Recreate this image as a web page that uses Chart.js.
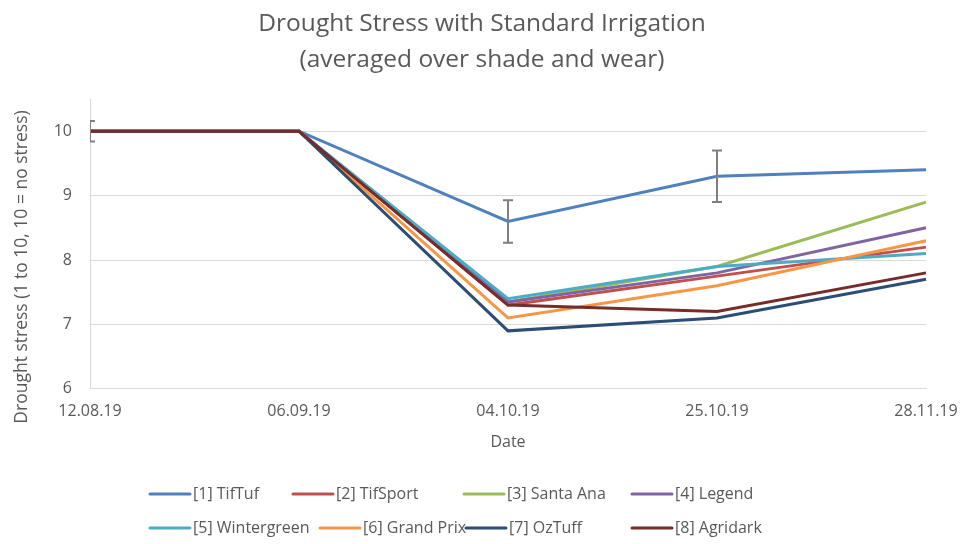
<!DOCTYPE html>
<html>
<head>
<meta charset="utf-8">
<script src="https://cdn.jsdelivr.net/npm/chart.js@4/dist/chart.umd.min.js"></script>
<style>
  html, body { margin: 0; padding: 0; background: #fff; }
  #wrap { width: 964px; height: 544px; }
</style>
</head>
<body>
<div id="wrap"><canvas id="chart"></canvas></div>
<script>
// dates of the ratings
const dates = ['12.08.19', '06.09.19', '04.10.19', '25.10.19', '28.11.19'];

// drought stress per variety (1 to 10, 10 = no stress)
const tifTuf      = [10, 10, 8.6, 9.3, 9.4];
const tifSport    = [10, 10, 7.3, 7.75, 8.2];
const santaAna    = [10, 10, 7.35, 7.9, 8.9];
const legendVar   = [10, 10, 7.35, 7.8, 8.5];
const wintergreen = [10, 10, 7.4, 7.9, 8.1];
const grandPrix   = [10, 10, 7.1, 7.6, 8.3];
const ozTuff      = [10, 10, 6.9, 7.1, 7.7];
const agridark    = [10, 10, 7.3, 7.2, 7.8];

// error bar half widths drawn on the TifTuf line
const errTifTuf = [0.16, 0, 0.33, 0.4, 0];

const yTicks = [6, 7, 8, 9, 10];
const yTitle = 'Drought stress (1 to 10, 10 = no stress)';

const seriesNames = ['[1] TifTuf', '[2] TifSport', '[3] Santa Ana', '[4] Legend',
  '[5] Wintergreen', '[6] Grand Prix', '[7] OzTuff', '[8] Agridark'];
const seriesData = [tifTuf, tifSport, santaAna, legendVar, wintergreen, grandPrix, ozTuff, agridark];
const seriesColors = ['#4F81BD', '#C0504D', '#9BBB59', '#8064A2', '#4BACC6', '#F79646', '#2C4D75', '#772C2A'];

const textColor = '#595959';
const gridColor = '#D9D9D9';
const fontFamily = '"Open Sans", sans-serif';

// error bars on dataset 0
const errorBarPlugin = {
  id: 'errorBars',
  afterDatasetsDraw(chart) {
    const ctx = chart.ctx;
    const meta = chart.getDatasetMeta(0);
    const yScale = chart.scales.y;
    const area = chart.chartArea;
    ctx.save();
    ctx.beginPath();
    ctx.rect(area.left, area.top, area.right - area.left, area.bottom - area.top);
    ctx.clip();
    ctx.strokeStyle = '#7F7F7F';
    ctx.lineWidth = 2;
    meta.data.forEach((pt, i) => {
      const e = errTifTuf[i];
      if (!e) return;
      const v = tifTuf[i];
      const yTop = yScale.getPixelForValue(v + e);
      const yBot = yScale.getPixelForValue(v - e);
      const x = pt.x;
      ctx.beginPath();
      ctx.moveTo(x, yTop); ctx.lineTo(x, yBot);
      ctx.moveTo(x - 5, yTop); ctx.lineTo(x + 5, yTop);
      ctx.moveTo(x - 5, yBot); ctx.lineTo(x + 5, yBot);
      ctx.stroke();
    });
    ctx.restore();
  }
};

// y axis title, placed like the original (a bit below the plot centre)
const yTitlePlugin = {
  id: 'yTitle',
  afterDraw(chart) {
    const ctx = chart.ctx;
    ctx.save();
    ctx.translate(22, 267);
    ctx.rotate(-Math.PI / 2);
    ctx.font = '17.5px ' + fontFamily;
    ctx.fillStyle = textColor;
    ctx.textAlign = 'center';
    ctx.textBaseline = 'middle';
    ctx.fillText(yTitle, 0, 0);
    ctx.restore();
  }
};

// legend laid out in two rows like the original
const legendPlugin = {
  id: 'gridLegend',
  afterDraw(chart) {
    const ctx = chart.ctx;
    const rowY = [494, 528];
    const colX = [[150, 293, 464, 632], [150, 320, 466, 632]];
    ctx.save();
    ctx.font = '16px ' + fontFamily;
    ctx.textBaseline = 'middle';
    ctx.textAlign = 'left';
    chart.data.datasets.forEach((ds, i) => {
      const row = Math.floor(i / 4);
      const x = colX[row][i % 4];
      const y = rowY[row];
      ctx.strokeStyle = ds.borderColor;
      ctx.lineWidth = 3;
      ctx.lineCap = 'round';
      ctx.beginPath();
      ctx.moveTo(x, y); ctx.lineTo(x + 40, y);
      ctx.stroke();
      ctx.fillStyle = textColor;
      ctx.fillText(ds.label, x + 43, y);
    });
    ctx.restore();
  }
};

const datasets = seriesNames.map((name, i) => ({
  label: name,
  data: seriesData[i],
  borderColor: seriesColors[i],
  backgroundColor: seriesColors[i],
  borderWidth: 3,
  pointRadius: 0,
  tension: 0,
  order: 8 - i
}));

const ctx = document.getElementById('chart').getContext('2d');
const chart = new Chart(ctx, {
  type: 'line',
  data: { labels: dates, datasets: datasets },
  options: {
    responsive: true,
    maintainAspectRatio: false,
    animation: false,
    layout: { padding: { left: 6, right: 6, top: 0, bottom: 94 } },
    plugins: {
      legend: { display: false },
      tooltip: { enabled: false },
      title: {
        display: true,
        text: ['Drought Stress with Standard Irrigation', '(averaged over shade and wear)'],
        color: textColor,
        font: { family: fontFamily, size: 24.5, weight: 'normal', lineHeight: 1.47 },
        padding: { top: 6, bottom: 21 }
      }
    },
    scales: {
      x: {
        type: 'category',
        offset: false,
        afterFit(scale) {
          scale.paddingLeft = 0;
          scale.paddingRight = 38;
        },
        grid: { display: false, drawTicks: false },
        border: { display: true, color: gridColor, width: 1 },
        ticks: {
          color: textColor,
          font: { family: fontFamily, size: 16 },
          padding: 13,
          maxRotation: 0,
          autoSkip: false
        },
        title: {
          display: true,
          text: 'Date',
          color: textColor,
          font: { family: fontFamily, size: 16, lineHeight: 1 },
          padding: { top: 0, bottom: 0 }
        }
      },
      y: {
        min: 6,
        max: 10.5,
        afterBuildTicks(scale) {
          scale.ticks = yTicks.map(v => ({ value: v }));
        },
        afterFit(scale) {
          scale.width = 84;
        },
        grid: { color: gridColor, drawTicks: false, lineWidth: 1 },
        border: { display: true, color: gridColor, width: 1 },
        ticks: {
          color: textColor,
          font: { family: fontFamily, size: 16 },
          padding: 18
        },
        title: { display: false }
      }
    }
  },
  plugins: [errorBarPlugin, yTitlePlugin, legendPlugin]
});
</script>
</body>
</html>
